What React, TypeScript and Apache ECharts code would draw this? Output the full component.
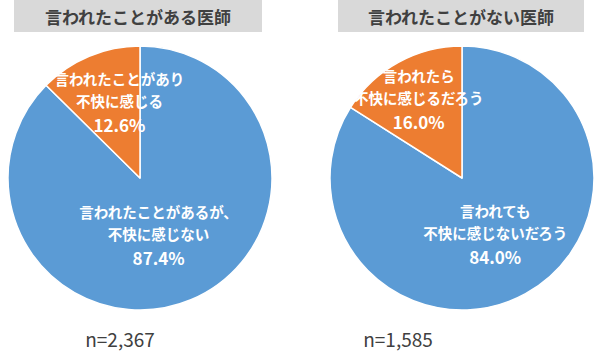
import React, { useEffect, useRef } from "react";
import * as echarts from "echarts";

const titles = ["言われたことがある医師", "言われたことがない医師"];
const sampleSizes = ["n=2,367", "n=1,585"];
const namesA = ["言われたことがあるが、\n不快に感じない", "言われたことがあり\n不快に感じる"];
const valuesA = [87.4, 12.6];
const namesB = ["言われても\n不快に感じないだろう", "言われたら\n不快に感じるだろう"];
const valuesB = [84.0, 16.0];
const colors = ["#5B9BD5", "#ED7D31"];

const FONT = "'Noto Sans CJK JP', 'Noto Sans', sans-serif";

function makePie(names: string[], values: number[], cx: number, offsets: number[][]) {
  return {
    type: "pie",
    center: [cx, 178],
    radius: 132,
    startAngle: 90,
    clockwise: true,
    silent: true,
    itemStyle: { borderColor: "#ffffff", borderWidth: 1.5 },
    label: {
      show: true,
      position: "inside",
      formatter: (p: any) => `{a|${p.name}}\n{p|${p.value.toFixed(1)}%}`,
      rich: {
        a: { color: "#ffffff", fontSize: 14.5, fontWeight: "bold", fontFamily: FONT, lineHeight: 22, align: "center" },
        p: { color: "#ffffff", fontSize: 17, fontWeight: "bold", fontFamily: FONT, lineHeight: 26, align: "center" },
      },
    },
    labelLine: { show: false },
    labelLayout: (params: any) => ({ dx: offsets[params.dataIndex][0], dy: offsets[params.dataIndex][1] }),
    data: names.map((n, i) => ({ name: n, value: values[i], itemStyle: { color: colors[i] } })),
  };
}

export default function App() {
  const ref = useRef<HTMLDivElement>(null);
  useEffect(() => {
    document.body.style.margin = "0";
    const chart = echarts.init(ref.current!, undefined, { renderer: "svg" });
    const boxes = [
      { x: 14, w: 248, cx: 138 },
      { x: 338, w: 246, cx: 461 },
    ];
    chart.setOption({
      animation: false,
      backgroundColor: "#ffffff",
      graphic: [
        ...boxes.map((b) => ({
          type: "rect",
          shape: { x: b.x, y: 0, width: b.w, height: 32 },
          style: { fill: "#D9D9D9" },
          z: 0,
        })),
        ...boxes.map((b, i) => ({
          type: "text",
          x: b.cx,
          y: 16,
          style: {
            text: titles[i],
            fill: "#404040",
            font: `bold 17px ${FONT}`,
            textAlign: "center",
            textVerticalAlign: "middle",
          },
          z: 1,
        })),
        ...[120, 398].map((x, i) => ({
          type: "text",
          x,
          y: 338,
          style: {
            text: sampleSizes[i],
            fill: "#404040",
            font: `19px ${FONT}`,
            textAlign: "center",
            textVerticalAlign: "middle",
          },
        })),
      ],
      series: [
        makePie(namesA, valuesA, 140, [[-8, -6], [6, -12]]),
        makePie(namesB, valuesB, 462, [[0, -4], [-10, -18]]),
      ],
    });
    return () => chart.dispose();
  }, []);
  return <div ref={ref} style={{ width: 600, height: 362 }} />;
}
